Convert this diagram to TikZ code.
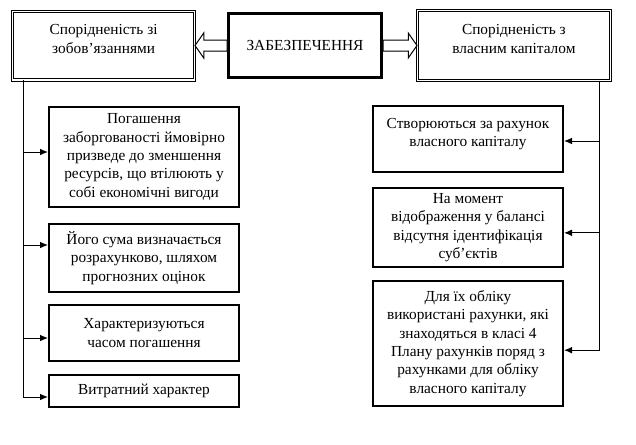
\documentclass[tikz,border=0pt]{standalone}
\usepackage{fontspec}
\setmainfont{Liberation Serif}
\usetikzlibrary{arrows.meta,positioning,shapes.arrows,calc}
\tikzset{
  item/.style={draw,line width=1.5pt,minimum width=142.5pt,inner sep=2pt,
    align=center,font=\fontsize{11.5}{13.8}\selectfont},
  head/.style={draw,double,double distance=0.9pt,line width=0.75pt,inner sep=2pt,
    align=center,font=\fontsize{11.5}{13.8}\selectfont},
  core/.style={draw,line width=2.25pt,minimum width=114.75pt,minimum height=48pt,
    font=\fontsize{11.5}{13.8}\selectfont},
  flow/.style={-{Latex[length=6pt,width=5pt]},line width=0.75pt},
  hollow/.style={single arrow,draw,line width=0.75pt,fill=white,inner xsep=0pt,
    inner ysep=3.75pt,outer sep=0pt,single arrow head extend=5.25pt,
    single arrow tip angle=110,anchor=tail}
}
\begin{document}
\begin{tikzpicture}
  \useasboundingbox (0,0) rectangle (477pt,-333pt);
  % top row
  \node[core] (main) at (228.75pt,-34.125pt) {ЗАБЕЗПЕЧЕННЯ};
  \node[head, left=24pt of main, minimum width=136.35pt, minimum height=51.6pt] (lrel)
    {Спорідненість зі\\зобов’язаннями\\[-7.8pt]\strut};
  \node[head, right=25.5pt of main, minimum width=144.6pt, minimum height=52.35pt] (rrel)
    {Спорідненість з\\власним капіталом\\[-7.8pt]\strut};
  \node[hollow, shape border rotate=180, minimum height=24pt] (larr) at (main.west) {};
  \node[hollow, minimum height=25.5pt] (rarr) at (main.east) {};
  % left column
  \node[item, minimum height=75pt] (l1) at (108pt,-117.75pt)
    {Погашення\\заборгованості ймовірно\\призведе до зменшення\\ресурсів, що втілюють у\\собі економічні вигоди};
  \node[item, below=11.25pt of l1, minimum height=51pt] (l2)
    {Його сума визначається\\розрахунково, шляхом\\прогнозних оцінок};
  \node[item, below=8.25pt of l2, minimum height=42pt] (l3)
    {Характеризуються\\часом погашення};
  \node[item, below=9pt of l3, minimum height=24pt] (l4) {Витратний характер};
  % right column
  \node[item, minimum height=49.5pt] (r1) at (351pt,-104.25pt)
    {Створюються за рахунок\\власного капіталу\\[-7.8pt]\strut};
  \node[item, below=10.5pt of r1, minimum height=59.25pt] (r2)
    {На момент\\відображення у балансі\\відсутня ідентифікація\\суб’єктів};
  \node[item, below=9pt of r2, minimum height=93.75pt] (r3)
    {Для їх обліку\\використані рахунки, які\\знаходяться в класі 4\\Плану рахунків поряд з\\рахунками для обліку\\власного капіталу};
  % trunks
  \coordinate (ltop) at (lrel.south -| 17.25pt,0);
  \coordinate (rtop) at (rrel.south -| 449.25pt,0);
  \draw[flow] (ltop) |- ([yshift=3.75pt]l1.west);
  \draw[flow] (ltop) |- ([yshift=9.75pt]l2.west);
  \draw[flow] (ltop) |- ([yshift=-3.75pt]l3.west);
  \draw[flow] (ltop) |- ([yshift=-4.5pt]l4.west);
  \draw[flow] (rtop) |- ([yshift=-1.5pt]r1.east);
  \draw[flow] (rtop) |- ([yshift=-4pt]r2.east);
  \draw[flow] (rtop) |- ([yshift=-5pt]r3.east);
\end{tikzpicture}
\end{document}
